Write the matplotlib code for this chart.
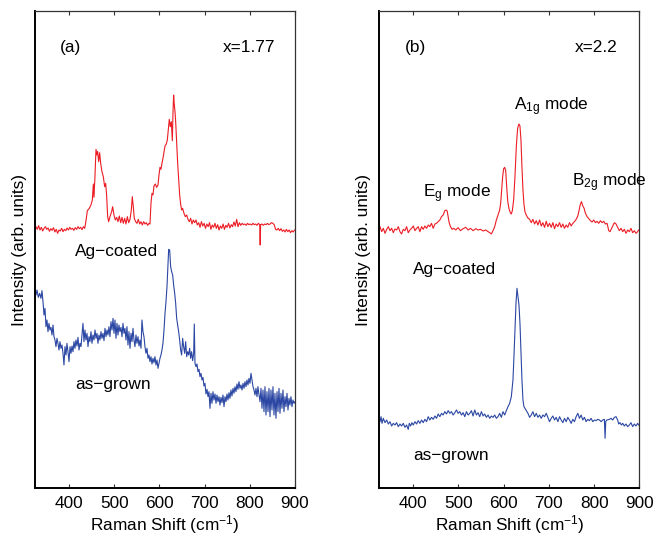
import numpy as np
import matplotlib
matplotlib.use("Agg")
import matplotlib.pyplot as plt

plt.rcParams['font.family'] = ['Liberation Sans', 'DejaVu Sans']
plt.rcParams['mathtext.fontset'] = 'custom'
plt.rcParams['mathtext.rm'] = 'Liberation Sans'
plt.rcParams['mathtext.it'] = 'Liberation Sans:italic'
plt.rcParams['mathtext.default'] = 'regular'

# ---------------- data (Raman shift in cm^-1, intensity in arb. units) ----------------
# Panel (a) x = 1.77, Ag-coated
wn_a_ag = [327, 330, 333, 336, 339, 342, 345, 348, 351, 354, 357, 360, 363, 366, 369, 372, 375, 378,
           381, 384, 387, 390, 393, 396, 399, 402, 405, 408, 411, 414, 417, 420, 423, 426, 429, 432,
           435, 438, 440.7, 445, 448.8, 451.8, 454, 455.4, 457.6, 459.9, 462, 463.6, 465.8, 468, 470.2,
           473.1, 476.1, 479, 481.3, 483.5, 485.7, 487.9, 490.8, 494.5, 496.7, 499.7, 502.6, 505.6,
           508.5, 511.5, 514.4, 517.4, 520.3, 523.3, 526.2, 529.2, 532.1, 535.1, 538, 540.2, 542.4,
           544.6, 547.6, 550.5, 553.5, 556.4, 559.4, 562.3, 565.3, 568.2, 571.2, 574.1, 577.1, 579.3,
           581.5, 583.7, 585.9, 588.1, 591.1, 594, 597, 599.2, 601.4, 603.6, 605.8, 608, 610.3, 612.5,
           615.4, 617.6, 619.8, 622, 624.3, 626.5, 628.7, 630.2, 631.6, 633.1, 634.6, 636.1, 638.3,
           640.5, 642.7, 644.9, 647.1, 649.3, 651.5, 654.5, 657.4, 660.4, 663.3, 666.3, 669.2, 672.2,
           675.1, 678.1, 681, 684, 687, 690, 693, 696, 699, 702, 705, 708, 711, 714, 717, 720, 723,
           726, 729, 732, 735, 738, 741, 744, 747, 750, 753, 756, 759, 762, 765, 768, 771, 774, 777,
           780, 783, 786, 789, 792, 795, 798, 801, 804, 807, 810, 813, 816, 819, 822, 823, 824, 827,
           830, 833, 836, 839, 842, 845, 848, 851, 854, 857, 860, 863, 866, 869, 872, 875, 878, 881,
           884, 887, 890, 893, 896, 899]
int_a_ag = [60, 52, 63, 50, 58, 47, 55, 60, 52, 56, 46, 54, 49, 57, 44, 52, 40, 50,
            47, 55, 45, 52, 48, 56, 50, 58, 52, 55, 49, 57, 52, 60, 54, 58, 51, 60,
            55, 80, 108, 115, 125, 140, 188, 148, 210, 292, 275, 285, 255, 282, 250,
            225, 210, 180, 190, 152, 90, 75, 90, 105, 120, 95, 80, 88,
            75, 92, 72, 88, 70, 85, 68, 90, 72, 82, 110, 150, 120,
            85, 75, 70, 82, 68, 75, 65, 75, 68, 72, 64, 70, 68,
            130, 160, 155, 182, 188, 178, 185, 215, 238, 232, 250, 265, 285, 302,
            308, 320, 350, 382, 360, 375, 318, 405, 455, 425, 405, 375, 310,
            250, 200, 155, 128, 110, 115, 100, 90, 95, 82, 75, 85, 68,
            80, 72, 80, 65, 72, 58, 75, 62, 70, 55, 68, 60, 72, 52, 65, 58, 70,
            55, 66, 50, 62, 55, 68, 52, 64, 58, 70, 56, 66, 60, 74, 62, 82, 60, 72,
            64, 70, 66, 68, 64, 70, 66, 68, 65, 70, 66, 68, 64, 70, 66, 5, 66, 68,
            64, 68, 66, 70, 66, 68, 72, 70, 66, 52, 50, 55, 48, 54, 46, 50, 44, 52,
            45, 50, 42, 48, 44, 50]

# Panel (a) x = 1.77, as-grown
wn_a_as = [325, 327.2, 329.4, 332.3, 335.3, 338.2, 340.4, 342.7, 344.9, 347.1, 349.3, 351.5, 353.7,
           355.9, 358.1, 360.3, 362.6, 364.8, 367, 369.2, 371.4, 373.6, 375.8, 378, 380.2, 382.5,
           384.7, 386.9, 389.1, 391.3, 393.5, 395.7, 397.9, 400.2, 402.4, 404.6, 406.8, 409, 411.2,
           413.4, 415.6, 417.8, 420.1, 422.3, 424.5, 426.7, 428.9, 431.1, 433.3, 435.5, 437.7, 440,
           442.2, 444.4, 446.6, 448.8, 451, 453.2, 455.4, 457.7, 459.9, 462.1, 464.3, 466.5, 468.7,
           470.9, 473.1, 475.4, 477.6, 479.8, 482, 484.2, 486.4, 488.6, 490.8, 493, 495.3, 497.5,
           499.7, 501.9, 504.1, 506.3, 508.5, 510.7, 512.9, 515.2, 517.4, 519.6, 521.8, 524, 526.2,
           528.4, 530.6, 532.8, 535.1, 537.3, 539.5, 541.7, 543.9, 546.1, 548.3, 550.5, 552.8, 555,
           557.2, 559.4, 561.6, 563.8, 566, 568.2, 570.4, 572.7, 574.9, 577.1, 579.3, 581.5, 583.7,
           585.9, 588.1, 590.3, 592.6, 594.8, 597, 599.2, 601.4, 603.6, 605.8, 608, 610.3, 612.5,
           614.7, 616.9, 619.1, 620.6, 622.8, 625, 627.2, 629.4, 631.6, 633.9, 636.1, 638.3, 640.5,
           642.7, 644.9, 647.1, 649.3, 651.5, 653.7, 656, 658.2, 660.4, 662.6, 664.8, 667, 669.2,
           671.4, 673.7, 675.9, 677.3, 678.8, 681, 683.2, 685.5, 687.7, 689.9, 692.1, 694.3, 696.5,
           698.7, 700.9, 703.1, 705.4, 707.6, 709.8, 712, 714.2, 716.4, 718.6, 720.8, 723.1, 725.3,
           727.5, 729.7, 731.9, 734.1, 736.3, 738.5, 740.7, 743, 745.2, 747.4, 749.6, 751.8, 754,
           756.2, 758.4, 760.6, 762.9, 765.1, 767.3, 769.5, 771.7, 773.9, 776.1, 778.3, 780.5, 782.8,
           785, 787.2, 789.4, 791.6, 793.8, 796, 798.2, 800.4, 802.7, 804.9, 807.1, 809.3, 811.5,
           813.7, 815.9, 818.1, 820.4, 822.6, 824.8, 827, 829.2, 831.4, 833.6, 835.8, 838, 840.3,
           842.5, 844.7, 846.9, 849.1, 851.3, 853.5, 855.7, 857.9, 860.2, 862.4, 864.6, 866.8, 869,
           871.2, 873.4, 875.6, 877.9, 880.1, 882.3, 884.5, 886.7, 888.9, 891.1, 893.3, 895.5,
           897.7, 899.9]
int_a_as = [445, 435, 450, 428, 440, 425, 448, 415, 375, 395, 340, 360, 325,
            350, 330, 338, 315, 345, 310, 300, 280, 305, 290, 270, 295, 275,
            285, 260, 225, 280, 255, 290, 265, 235, 280, 260, 282, 265, 295,
            275, 300, 282, 308, 270, 290, 280, 315, 350, 295, 330, 300, 320,
            280, 310, 295, 325, 290, 315, 300, 330, 305, 320, 290, 315, 300,
            325, 305, 320, 298, 335, 310, 330, 315, 340, 310, 355, 330, 365,
            320, 360, 305, 350, 315, 345, 325, 338, 310, 350, 320, 335, 300,
            340, 285, 325, 275, 320, 295, 335, 300, 280, 315, 290, 310, 282,
            300, 275, 360, 325, 310, 280, 260, 275, 245, 255, 235, 250, 228,
            245, 232, 250, 225, 240, 215, 230, 245, 255, 270, 290, 330, 380,
            415, 460, 530, 572, 570, 520, 505, 495, 465, 440, 410, 365, 345,
            325, 300, 270, 255, 305, 280, 260, 295, 250, 265, 255, 275, 245,
            265, 238, 260, 348, 230, 220, 228, 205, 212, 190, 200, 180, 188,
            162, 170, 138, 152, 130, 145, 95, 140, 110, 145, 120, 138, 110,
            135, 115, 130, 105, 128, 112, 135, 100, 130, 115, 138, 120, 142,
            125, 150, 132, 155, 140, 160, 145, 168, 152, 175, 155, 165, 150,
            170, 155, 175, 160, 180, 165, 185, 170, 200, 180, 160, 150, 135,
            155, 130, 160, 135, 115, 155, 95, 150, 85, 160, 75, 145, 85,
            155, 70, 150, 90, 160, 75, 140, 65, 145, 85, 155, 80, 140,
            95, 150, 85, 130, 100, 140, 90, 125, 105, 130, 100, 120,
            110, 115]

# Panel (b) x = 2.2, Ag-coated
wn_b_ag = [326.6, 330.2, 333.9, 337.6, 341.3, 344.9, 348.6, 352.3, 356, 359.6, 363.3, 367, 370.7,
           374.3, 378, 381.7, 385.4, 389, 392.7, 396.4, 400.1, 403.8, 407.4, 411.1, 414.8, 418.5,
           422.1, 425.8, 429.5, 433.2, 436.8, 440.5, 444.2, 447.9, 451.5, 455.2, 458.9, 462.6,
           466.2, 469.9, 472.1, 475.1, 477.3, 479.5, 482.4, 486.1, 489.8, 494.2, 499.3, 504.5,
           510.4, 516.2, 521.4, 526.5, 532.4, 538.3, 543.4, 548.6, 554.5, 560.3, 565.5, 569.2,
           572.8, 576.5, 580.2, 583.9, 587.5, 591.2, 593.4, 595.6, 597.8, 600, 602.3, 604.5, 606.7,
           608.9, 611.8, 614.8, 617, 619.2, 622.1, 625, 628, 630.9, 633.9, 636.1, 638.3, 640.5,
           642.7, 644.9, 647.1, 650, 653.7, 657.4, 661.1, 664.7, 668.4, 672.1, 675.8, 679.5, 683.1,
           686.8, 690.5, 694.2, 697.8, 701.5, 705.2, 708.9, 712.5, 716.2, 719.9, 723.6, 727.2,
           730.9, 734.6, 738.3, 741.9, 745.6, 749.3, 753, 756.6, 760.3, 764, 766.2, 769.2, 772.1,
           775.1, 778, 780.9, 784.6, 788.3, 792, 795.6, 799.3, 803, 806.6, 810.3, 814, 817.7, 821.3,
           825, 828.7, 832.4, 835.3, 838.3, 841.2, 844.9, 848.5, 852.2, 855.9, 859.6, 863.3, 866.9,
           870.6, 874.3, 878, 881.6, 885.3, 889, 892.7, 896.3, 898.5]
int_b_ag = [60, 45, 55, 40, 52, 60, 48, 55, 42, 53, 50, 60, 45,
            38, 52, 48, 60, 42, 50, 55, 62, 48, 55, 60, 45, 60,
            52, 62, 55, 65, 60, 70, 55, 68, 70, 75, 80, 90,
            95, 108, 110, 107, 90, 72, 60, 52, 55, 50, 57, 48,
            54, 58, 50, 55, 48, 54, 50, 52, 47, 50, 45, 42,
            38, 48, 60, 80, 95, 110, 130, 170, 210, 234, 238, 228, 180,
            138, 114, 102, 98, 108, 140, 210, 300, 355, 368, 362, 320, 238,
            170, 128, 105, 95, 86, 82, 72, 82, 68, 78, 65, 80, 62,
            72, 58, 76, 60, 70, 58, 72, 54, 68, 60, 72, 58,
            68, 55, 65, 58, 72, 62, 70, 75, 82, 92, 105, 125, 135,
            122, 115, 100, 90, 84, 78, 74, 80, 72, 76, 70, 78, 72, 76,
            68, 70, 48, 45, 54, 62, 72, 68, 58, 48, 55, 45, 52,
            40, 50, 45, 55, 42, 48, 40, 45, 50]

# Panel (b) x = 2.2, as-grown
wn_b_as = [326.6, 328.8, 331, 333.9, 337.6, 341.3, 344.9, 348.6, 352.3, 356, 359.6, 363.3, 367,
           370.7, 374.3, 378, 381.7, 385.4, 389, 391.3, 394.2, 397.1, 400.1, 403.8, 407.4, 411.1,
           414.8, 418.5, 422.1, 425.8, 429.5, 433.2, 436.8, 440.5, 444.2, 447.9, 451.5, 455.2,
           458.9, 462.6, 466.2, 469.9, 473.6, 477.3, 481, 484.6, 488.3, 492, 495.7, 499.3, 503,
           506.7, 510.4, 514, 517.7, 521.4, 525.1, 528.7, 532.4, 536.1, 539.8, 543.4, 547.1, 550.8,
           554.5, 558.1, 561.8, 565.5, 569.2, 572.8, 576.5, 580.2, 583.9, 587.5, 591.2, 594.9,
           598.6, 602.3, 605.9, 609.6, 613.3, 617, 620.6, 622.8, 625, 627.3, 629.5, 631.7, 633.9,
           636.1, 638.3, 640.5, 642.7, 644.9, 647.1, 650, 653.7, 657.4, 661.1, 664.7, 668.4, 672.1,
           675.8, 679.5, 683.1, 686.8, 690.5, 694.2, 697.8, 701.5, 705.2, 708.9, 712.5, 716.2,
           719.9, 723.6, 727.2, 730.9, 734.6, 738.3, 741.9, 745.6, 749.3, 753, 756.6, 760.3, 764,
           767.7, 771.4, 775, 778.7, 782.4, 786, 789.7, 793.4, 797.1, 800.8, 804.4, 808.1, 811.8,
           815.5, 819.1, 822.8, 824.3, 825.8, 828, 833.9, 837.5, 841.2, 844.9, 848.5, 852.2, 854.4,
           857.4, 860.3, 863.3, 866.9, 870.6, 874.3, 878, 881.6, 885.3, 889, 892.7, 896.3, 898.5]
int_b_as = [75, 90, 70, 85, 72, 80, 68, 75, 62, 70, 65, 72, 60,
            68, 62, 70, 58, 65, 52, 70, 62, 72, 65, 75, 68, 78,
            70, 80, 72, 82, 75, 90, 80, 88, 82, 92, 85, 98,
            90, 100, 95, 105, 98, 108, 100, 105, 95, 102, 110, 100, 105,
            95, 102, 90, 105, 95, 100, 108, 92, 110, 95, 102, 90, 105,
            92, 98, 88, 95, 85, 92, 88, 95, 85, 90, 100, 88,
            105, 95, 108, 120, 130, 150, 200, 270, 350, 430, 475, 450, 425,
            370, 280, 200, 140, 120, 115, 108, 100, 88, 95, 105, 90, 100,
            88, 95, 85, 95, 90, 100, 88, 75, 85, 92, 80, 88,
            75, 90, 80, 72, 85, 75, 88, 80, 70, 82, 75, 90, 100,
            85, 95, 80, 88, 75, 82, 78, 85, 75, 80, 78, 82, 80,
            75, 80, 82, 25, 75, 80, 82, 85, 80, 88, 90, 80, 68,
            72, 65, 70, 62, 68, 60, 65, 72, 60, 68, 62, 70, 65]

# vertical display offsets of the stacked spectra
offset_ag = 724
offset_as_a = 144
offset_as_b = 124

red = '#ec1c24'
blue = '#2b47a3'

fig = plt.figure(figsize=(6.55, 5.37), dpi=100)
ax_a = fig.add_axes([35 / 655, 1 - 488 / 537, 260 / 655, 477 / 537])
ax_b = fig.add_axes([379.3 / 655, 1 - 488 / 537, 260 / 655, 477 / 537])

ax_a.plot(wn_a_ag, np.array(int_a_ag) + offset_ag, color=red, lw=0.8)
ax_a.plot(wn_a_as, np.array(int_a_as) + offset_as_a, color=blue, lw=0.8)
ax_b.plot(wn_b_ag, np.array(int_b_ag) + offset_ag, color=red, lw=0.8)
ax_b.plot(wn_b_as, np.array(int_b_as) + offset_as_b, color=blue, lw=0.8)

fs = 12.4
for ax in (ax_a, ax_b):
    ax.set_xlim(325, 900)
    ax.set_ylim(0, 1431)
    ax.set_xticks([400, 500, 600, 700, 800, 900])
    ax.set_yticks([])
    ax.tick_params(axis='x', direction='in', length=3, width=0.8, top=True,
                   labelsize=fs, pad=6, color='#333333')
    ax.set_xlabel('Raman Shift (cm$^{-1}$)', fontsize=fs, labelpad=1.5)
    ax.set_ylabel('Intensity (arb. units)', fontsize=fs, labelpad=6)
    for s in ('left', 'bottom'):
        ax.spines[s].set_linewidth(1.4)
        ax.spines[s].set_color('black')
    for s in ('top', 'right'):
        ax.spines[s].set_linewidth(0.9)
        ax.spines[s].set_color('#333333')

ax_a.text(0.135, 0.915, '(a)', transform=ax_a.transAxes, ha='center', va='baseline', fontsize=fs)
ax_a.text(0.923, 0.915, 'x=1.77', transform=ax_a.transAxes, ha='right', va='baseline', fontsize=fs)
ax_a.text(0.154, 0.487, 'Ag\u2212coated', transform=ax_a.transAxes, ha='left', va='baseline', fontsize=fs)
ax_a.text(0.154, 0.208, 'as\u2212grown', transform=ax_a.transAxes, ha='left', va='baseline', fontsize=fs)

ax_b.text(0.138, 0.915, '(b)', transform=ax_b.transAxes, ha='center', va='baseline', fontsize=fs)
ax_b.text(0.918, 0.915, 'x=2.2', transform=ax_b.transAxes, ha='right', va='baseline', fontsize=fs)
ax_b.text(0.131, 0.449, 'Ag\u2212coated', transform=ax_b.transAxes, ha='left', va='baseline', fontsize=fs)
ax_b.text(0.131, 0.059, 'as\u2212grown', transform=ax_b.transAxes, ha='left', va='baseline', fontsize=fs)
ax_b.text(0.169, 0.610, 'E$_g$ mode', transform=ax_b.transAxes, ha='left', va='baseline', fontsize=fs)
ax_b.text(0.519, 0.792, 'A$_{1g}$ mode', transform=ax_b.transAxes, ha='left', va='baseline', fontsize=fs)
ax_b.text(0.742, 0.633, 'B$_{2g}$ mode', transform=ax_b.transAxes, ha='left', va='baseline', fontsize=fs)

fig.savefig('out.png', dpi=100)
